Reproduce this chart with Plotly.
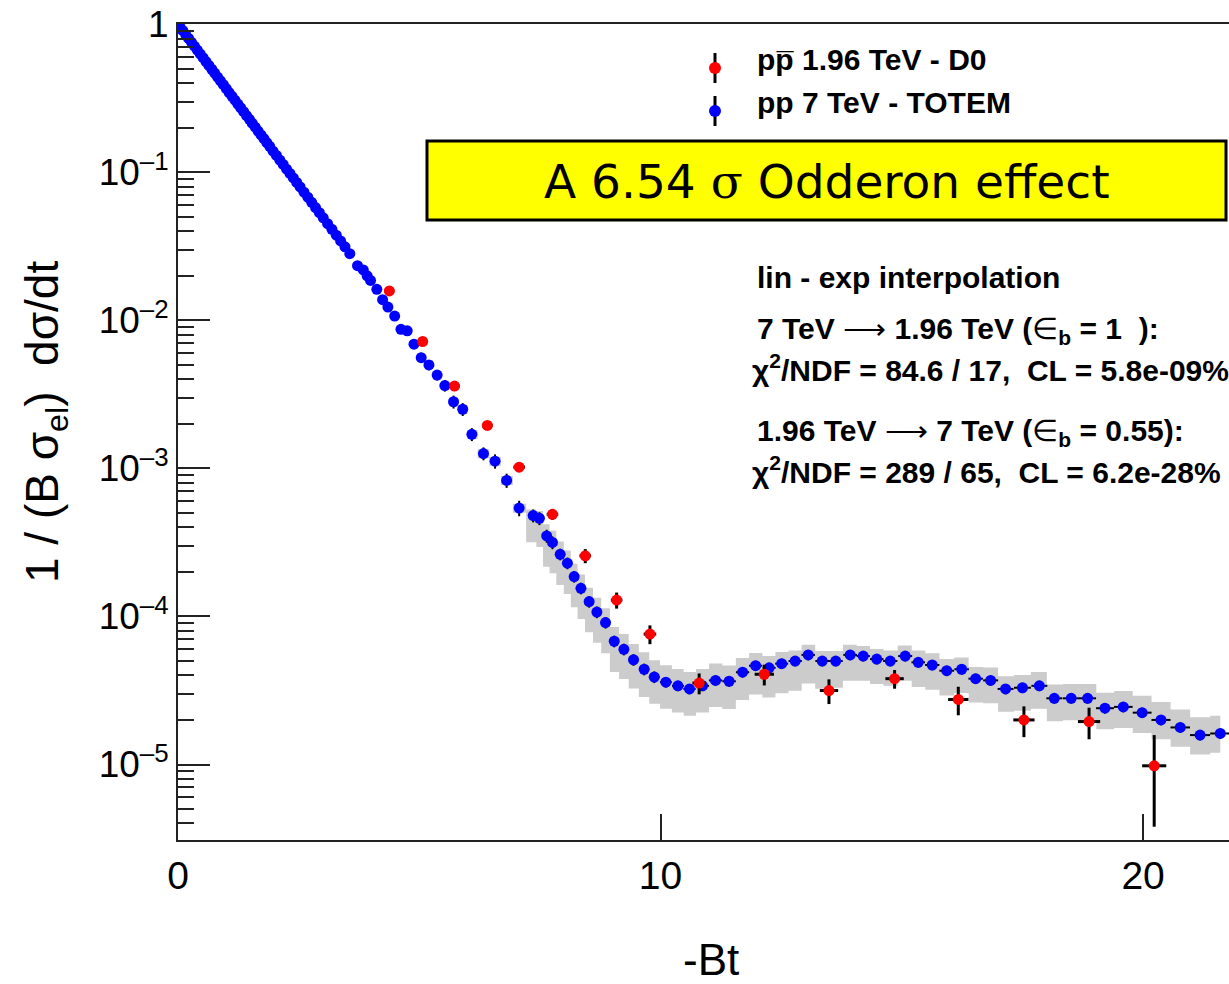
import plotly.graph_objects as go
import numpy as np

# ---------------- data ----------------
# D0  p-pbar 1.96 TeV
d0_x = [4.38, 5.07, 5.73, 6.41, 7.07, 7.76, 8.44, 9.09, 9.78, 10.80,
        12.15, 13.49, 14.85, 16.17, 17.53, 18.88, 20.23]
d0_y = [1.58e-2, 7.2e-3, 3.6e-3, 1.95e-3, 1.02e-3, 4.9e-4, 2.57e-4, 1.29e-4,
        7.6e-5, 3.55e-5, 4.07e-5, 3.16e-5, 3.8e-5, 2.75e-5, 2.0e-5, 1.95e-5, 9.8e-6]
d0_yerr = [4e-4, 2.5e-4, 1.5e-4, 1.0e-4, 6e-5, 4e-5, 2.8e-5, 1.6e-5,
           1.1e-5, 5.7e-6, 6.5e-6, 6.0e-6, 5.5e-6, 6.0e-6, 4.7e-6, 4.7e-6, 6.0e-6]
d0_xerr = [0.10, 0.10, 0.11, 0.11, 0.12, 0.12, 0.12, 0.12, 0.13, 0.14,
           0.20, 0.19, 0.19, 0.21, 0.22, 0.23, 0.25]

# TOTEM pp 7 TeV, dense low -Bt part
totem_dense_x = [0.04, 0.10, 0.16, 0.22, 0.28, 0.34, 0.40, 0.46, 0.52, 0.58, 0.64, 0.70,
                 0.76, 0.82, 0.88, 0.94, 1.00, 1.06, 1.12, 1.18, 1.24, 1.30, 1.36, 1.42,
                 1.48, 1.54, 1.60, 1.66, 1.72, 1.78, 1.84, 1.90, 1.97, 2.04, 2.11, 2.18,
                 2.25, 2.32, 2.39, 2.46, 2.53, 2.61, 2.69, 2.77, 2.85, 2.93, 3.01, 3.10,
                 3.19, 3.28, 3.37, 3.46]
totem_dense_y = [0.961, 0.905, 0.852, 0.803, 0.756, 0.712, 0.670, 0.631, 0.595, 0.560, 0.527, 0.497,
                 0.468, 0.440, 0.415, 0.391, 0.368, 0.346, 0.326, 0.307, 0.289, 0.273, 0.257, 0.242,
                 0.228, 0.214, 0.202, 0.190, 0.179, 0.169, 0.159, 0.150, 0.139, 0.130, 0.121, 0.113,
                 0.105, 0.0983, 0.0916, 0.0854, 0.0797, 0.0735, 0.0679, 0.0627, 0.0578, 0.0534, 0.0493, 0.0450,
                 0.0412, 0.0376, 0.0344, 0.0314]
# TOTEM pp 7 TeV, sparse part
totem_x = [3.56, 3.72, 3.84, 3.92, 3.99, 4.12, 4.24, 4.35, 4.49, 4.62, 4.75, 4.89,
           5.04, 5.20, 5.37, 5.53, 5.71, 5.90, 6.09, 6.33, 6.57, 6.81, 7.07,
           7.36, 7.49, 7.64, 7.76, 7.92, 8.07, 8.21, 8.35, 8.52, 8.68, 8.86, 9.04,
           9.24, 9.44, 9.66, 9.87, 10.11, 10.36, 10.60, 10.87, 11.14, 11.42, 11.70,
           11.97, 12.25, 12.51, 12.79, 13.06, 13.35, 13.63, 13.93, 14.20, 14.48,
           14.76, 15.07, 15.34, 15.63, 15.93, 16.24, 16.53, 16.84, 17.15, 17.50,
           17.85, 18.16, 18.51, 18.85, 19.21, 19.59, 19.98, 20.37, 20.77, 21.18, 21.60]
totem_y = [2.82e-2, 2.34e-2, 2.19e-2, 2.00e-2, 1.86e-2, 1.62e-2, 1.38e-2, 1.23e-2, 1.07e-2, 8.7e-3, 8.5e-3, 6.9e-3,
           5.6e-3, 5.0e-3, 4.27e-3, 3.63e-3, 2.82e-3, 2.51e-3, 1.70e-3, 1.26e-3, 1.12e-3, 8.3e-4, 5.4e-4,
           4.8e-4, 4.6e-4, 3.5e-4, 3.16e-4, 2.63e-4, 2.29e-4, 1.86e-4, 1.55e-4, 1.26e-4, 1.07e-4, 9.1e-5, 6.8e-5,
           6.0e-5, 5.1e-5, 4.4e-5, 3.9e-5, 3.6e-5, 3.4e-5, 3.24e-5, 3.4e-5, 3.7e-5, 3.65e-5, 4.2e-5,
           4.65e-5, 4.5e-5, 4.8e-5, 5.0e-5, 5.5e-5, 5.0e-5, 5.0e-5, 5.5e-5, 5.4e-5, 5.15e-5,
           5.0e-5, 5.4e-5, 4.9e-5, 4.7e-5, 4.3e-5, 4.4e-5, 3.8e-5, 3.7e-5, 3.24e-5, 3.3e-5,
           3.4e-5, 2.8e-5, 2.8e-5, 2.8e-5, 2.4e-5, 2.45e-5, 2.24e-5, 2.0e-5, 1.78e-5, 1.58e-5, 1.62e-5]
# relative stat. errors of the sparse TOTEM points (percent)
totem_err_pct = [
    3, 3, 3, 3, 3, 4, 4, 4, 4, 5, 5, 6,
    8, 8, 8, 9, 10, 10, 10, 10, 11, 11, 12,
    10, 10, 10, 10, 9, 9, 9, 9, 9, 9, 9, 9,
    9, 9, 9, 9, 8, 8, 8, 8, 8, 8, 8,
    8, 8, 8, 8, 8, 8, 8, 8, 8, 8,
    8, 8, 8, 8, 8, 8, 8, 8, 8, 8,
    8, 8, 8, 8, 8, 8, 8, 8, 8, 8, 8]
# systematic (grey) band: upper / lower factor relative to each sparse TOTEM point
band_up = [1.0] * 5 + [1.07] * 18 + [
    1.10, 1.12, 1.20, 1.20, 1.22, 1.22, 1.22, 1.24, 1.24, 1.25, 1.25, 1.25,
    1.27, 1.28, 1.30, 1.30, 1.30, 1.30, 1.30, 1.30, 1.30, 1.28, 1.25,
    1.22, 1.20, 1.20, 1.18, 1.17, 1.17, 1.17, 1.17, 1.17, 1.17,
    1.18, 1.18, 1.20, 1.20, 1.20, 1.20, 1.20, 1.22, 1.22, 1.22,
    1.24, 1.24, 1.25, 1.25, 1.27, 1.28, 1.30, 1.32, 1.32, 1.32, 1.32]
band_dn = [1.0] * 5 + [0.93] * 18 + [
    0.66, 0.64, 0.62, 0.62, 0.62, 0.62, 0.62, 0.62, 0.62, 0.62, 0.62, 0.62,
    0.63, 0.64, 0.65, 0.66, 0.66, 0.66, 0.66, 0.66, 0.66, 0.65, 0.65,
    0.64, 0.63, 0.63, 0.63, 0.64, 0.65, 0.66, 0.67, 0.68, 0.68,
    0.68, 0.68, 0.68, 0.68, 0.68, 0.69, 0.69, 0.70, 0.70, 0.70,
    0.70, 0.70, 0.71, 0.71, 0.72, 0.72, 0.73, 0.74, 0.74, 0.74, 0.74]

y_ticks = [1e-5, 1e-4, 1e-3, 1e-2, 1e-1, 1]
y_ticktext = ["10<sup>\u20135</sup>", "10<sup>\u20134</sup>", "10<sup>\u20133</sup>",
              "10<sup>\u20132</sup>", "10<sup>\u20131</sup>", "1"]
x_ticks = [0, 10, 20]

# ---------------- derived ----------------
tx = np.array(totem_dense_x + totem_x)
ty = np.array(totem_dense_y + totem_y)
terr = np.array(totem_y) * np.array(totem_err_pct) / 100.0
terr = np.concatenate([np.zeros(len(totem_dense_x)), terr])
sx = np.array(totem_x)
sy = np.array(totem_y)
up = np.array(band_up)
dn = np.array(band_dn)
sel = up > 1.0
bx = sx[sel]
b_hi = sy[sel] * up[sel]
b_lo = sy[sel] * dn[sel]
half = np.zeros_like(tx)
half[1:-1] = (tx[2:] - tx[:-2]) / 4.0
half[-1] = (tx[-1] - tx[-2]) / 2.0
txerr = np.where(tx > 7.3, half, 0.0)

fig = go.Figure()

fig.add_trace(go.Scatter(x=bx, y=b_lo, mode="lines", line=dict(width=0, shape="hvh"),
                         hoverinfo="skip", showlegend=False))
fig.add_trace(go.Scatter(x=bx, y=b_hi, mode="lines", line=dict(width=0, shape="hvh"),
                         fill="tonexty", fillcolor="#cccccc", hoverinfo="skip", showlegend=False))

fig.add_trace(go.Scatter(
    x=tx, y=ty, mode="markers",
    marker=dict(color="#0000ff", size=11, line=dict(width=0)),
    error_y=dict(type="data", array=terr, color="black", thickness=2, width=0),
    error_x=dict(type="data", array=txerr, color="black", thickness=2, width=0),
    showlegend=False))

fig.add_trace(go.Scatter(
    x=d0_x, y=d0_y, mode="markers",
    marker=dict(color="#ff0000", size=11, line=dict(width=0)),
    error_y=dict(type="data", array=d0_yerr, color="black", thickness=3, width=0),
    error_x=dict(type="data", array=d0_xerr, color="black", thickness=3, width=0),
    showlegend=False))

# ---------------- layout ----------------
W, H = 1229, 984
L, R, T, B = 178, 0, 24, 144
pw, ph = W - L - R, H - T - B


def px(xp):
    return (xp - L) / pw


def py(yp):
    return (H - B - yp) / ph


FONT = "Liberation Sans"
NB = "\u00a0"
shapes = []
annotations = []

shapes.append(dict(type="rect", xref="paper", yref="paper",
                   x0=px(427), x1=px(1226), y0=py(220), y1=py(141),
                   fillcolor="#ffff00", line=dict(color="black", width=3), layer="above"))
annotations.append(dict(xref="paper", yref="paper", x=px(827), y=py(181),
                        text="A 6.54 <span style=\"font-family:'DejaVu Serif'\">σ</span> Odderon effect",
                        showarrow=False, xanchor="center", yanchor="middle",
                        font=dict(family="DejaVu Sans", size=47, color="black")))

for ycen, col in ((68, "#ff0000"), (111, "#0000ff")):
    shapes.append(dict(type="line", xref="paper", yref="paper",
                       x0=px(715), x1=px(715), y0=py(ycen - 15), y1=py(ycen + 15),
                       line=dict(color="black", width=3), layer="above"))
    shapes.append(dict(type="circle", xref="paper", yref="paper",
                       x0=px(709), x1=px(721), y0=py(ycen + 6), y1=py(ycen - 6),
                       fillcolor=col, line=dict(width=0), layer="above"))


def txt(x, y, s, size=30):
    annotations.append(dict(xref="paper", yref="paper", x=px(x), y=py(y), text=s,
                            showarrow=False, xanchor="left", yanchor="middle",
                            font=dict(family=FONT, size=size, color="black", weight="bold")))


ARW = "<span style=\"font-weight:normal\">" + NB + "\u27f6" + NB + "</span>"
EPS = "(<span style=\"font-weight:normal\">\u2208</span><sub>b</sub>"
txt(755, 60, "pp\u0305 1.96 TeV - D0")
txt(755, 102, "pp 7 TeV - TOTEM")
txt(755, 277, "lin - exp interpolation")
txt(755, 330, "7 TeV" + ARW + "1.96 TeV " + EPS + " = 1" + NB + NB + "):")
txt(750, 368, "χ<sup>2</sup>/NDF = 84.6 / 17," + NB + NB + "CL = 5.8e-09%")
txt(755, 432, "1.96 TeV" + ARW + "7 TeV " + EPS + " = 0.55):")
txt(750, 470, "χ<sup>2</sup>/NDF = 289 / 65," + NB + NB + "CL = 6.2e-28%")

annotations.append(dict(xref="paper", yref="paper", x=px(711), y=py(960), text="-Bt",
                        showarrow=False, xanchor="center", yanchor="middle",
                        font=dict(family=FONT, size=44, color="black")))
annotations.append(dict(xref="paper", yref="paper", x=px(45), y=py(422),
                        text="1 / (B σ<sub>el</sub>)" + NB + NB + "dσ/dt", textangle=-90,
                        showarrow=False, xanchor="center", yanchor="middle",
                        font=dict(family=FONT, size=46, color="black")))

fig.update_layout(
    width=W, height=H,
    margin=dict(l=L, r=R, t=T, b=B, pad=0),
    paper_bgcolor="white", plot_bgcolor="white",
    shapes=shapes, annotations=annotations,
    showlegend=False,
    xaxis=dict(range=[0, 21.78], tickvals=x_ticks, ticks="inside", ticklen=26,
               tickwidth=2, tickcolor="#222", showline=True, linecolor="#222", linewidth=2,
               mirror=True, showgrid=False, zeroline=False,
               tickfont=dict(family=FONT, size=39, color="black")),
    yaxis=dict(type="log", range=[-5.51, 0.002], tickvals=y_ticks, ticktext=y_ticktext,
               ticks="inside", ticklen=32, tickwidth=2, tickcolor="#222",
               showline=True, linecolor="#222", linewidth=2, showgrid=False, zeroline=False,
               minor=dict(ticks="inside", ticklen=16, tickwidth=2, tickcolor="#222",
                          dtick="D1", showgrid=False),
               tickfont=dict(family=FONT, size=37, color="black")),
)

fig.write_html("out.html")
